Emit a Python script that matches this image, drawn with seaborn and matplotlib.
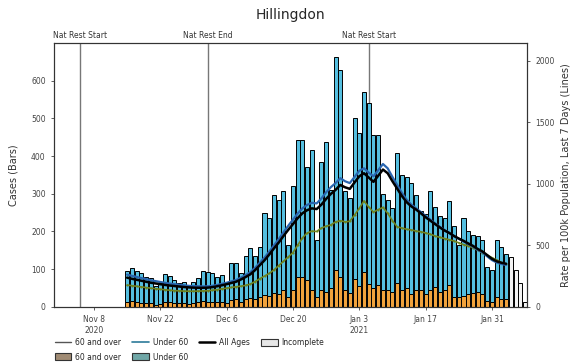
import numpy as np
import pandas as pd
import matplotlib
matplotlib.use("Agg")
import matplotlib.pyplot as plt
import matplotlib.dates as mdates
from matplotlib.lines import Line2D
from matplotlib.patches import Patch
import seaborn as sns

sns.set_style("ticks")
plt.rcParams["font.family"] = ["DejaVu Sans"]

area = "Hillingdon"

# daily cases from 15 Nov 2020 to 3 Feb 2021 (complete days)
start_day = "2020-11-15"
cases_total = [94, 103, 96, 89, 80, 76, 54, 62, 87, 82, 72, 64, 67, 54, 67, 76,
               96, 93, 89, 80, 85, 66, 116, 116, 89, 135, 156, 134, 160, 250, 235, 297,
               284, 306, 164, 321, 443, 443, 372, 415, 178, 383, 436, 310, 664, 629, 306,
               290, 500, 460, 571, 540, 456, 456, 300, 284, 262, 408, 350, 344, 328, 297,
               255, 245, 306, 266, 240, 235, 282, 215, 165, 235, 200, 191, 188, 178, 107, 98,
               178, 160, 140]
cases_60plus = [12, 15, 14, 10, 11, 9, 6, 8, 13, 12, 10, 9, 11, 8, 10, 14,
                15, 13, 12, 14, 12, 9, 18, 20, 14, 22, 24, 20, 25, 32, 28, 38,
                35, 44, 25, 45, 78, 80, 72, 44, 25, 45, 40, 50, 99, 80, 45,
                38, 75, 55, 93, 60, 49, 57, 44, 44, 40, 62, 45, 50, 35, 44,
                44, 35, 45, 53, 40, 45, 57, 25, 27, 30, 35, 38, 40, 35, 15, 13,
                27, 22, 22]

# last days, not yet complete
incomplete_start = "2021-02-04"
cases_incomplete = [131, 97, 64, 13]

# rate per 100k, last 7 days
rate_all = [237, 228, 220, 212, 204, 196, 190, 184, 178, 173, 169, 165, 161, 158, 156, 155,
            155, 156, 160, 167, 175, 184, 194, 204, 222, 242, 264, 298, 338, 378, 425, 475,
            522, 575, 625, 672, 720, 760, 785, 800, 794, 830, 876, 917, 950, 990, 971,
            958, 1010, 1060, 1085, 1050, 1015, 1065, 1115, 1085, 1020, 960, 900, 850, 815, 790,
            760, 728, 700, 672, 645, 620, 600, 575, 555, 536, 515, 495, 470, 450, 420, 390,
            370, 358, 350]
rate_under60 = [262, 252, 243, 234, 225, 216, 209, 202, 195, 189, 184, 179, 175, 171, 168, 167,
                166, 167, 171, 178, 187, 196, 207, 218, 237, 258, 281, 317, 358, 400, 448, 500,
                550, 605, 658, 708, 758, 800, 828, 845, 840, 880, 930, 972, 1005, 1045, 1020,
                1005, 1055, 1105, 1125, 1090, 1060, 1110, 1160, 1125, 1055, 990, 925, 870, 830, 800,
                770, 738, 708, 678, 650, 623, 600, 575, 552, 532, 510, 488, 463, 442, 410, 380,
                360, 348, 340]
rate_60plus = [177, 172, 167, 162, 157, 152, 147, 143, 139, 135, 132, 130, 128, 127, 127, 128,
               129, 131, 135, 140, 146, 152, 158, 163, 168, 174, 185, 205, 228, 250, 272, 300,
               335, 370, 405, 440, 500, 560, 600, 615, 612, 640, 655, 665, 690, 700, 690,
               695, 745, 800, 860, 810, 770, 790, 807, 760, 700, 650, 640, 630, 625, 615,
               610, 600, 590, 575, 565, 555, 545, 535, 520, 505, 495, 480, 460, 440, 420, 400,
               380, 360, 345]

event_dates = ["2020-11-05", "2020-12-02", "2021-01-05"]
event_labels = ["Nat Rest Start", "Nat Rest End", "Nat Rest Start"]

tick_dates = ["2020-11-08", "2020-11-22", "2020-12-06", "2020-12-20",
              "2021-01-03", "2021-01-17", "2021-01-31"]
tick_labels = ["Nov 8\n2020", "Nov 22", "Dec 6", "Dec 20", "Jan 3\n2021", "Jan 17", "Jan 31"]

col_over = "#f0a23c"
col_under = "#55bfe0"
col_line_over = "#6f8420"
col_line_under = "#2a66b0"

days = mdates.date2num(pd.date_range(start_day, periods=len(cases_total)))
inc_days = mdates.date2num(pd.date_range(incomplete_start, periods=len(cases_incomplete)))
under60 = [t - o for t, o in zip(cases_total, cases_60plus)]

bars = pd.DataFrame({
    "day": np.concatenate([days, days]),
    "cases": cases_60plus + under60,
    "age": ["60 and over"] * len(days) + ["Under 60"] * len(days),
})

fig = plt.figure(figsize=(5.75, 3.64), dpi=100)
ax = fig.add_axes([0.094, 0.157, 0.823, 0.725])

sns.histplot(data=bars, x="day", weights="cases", hue="age",
             hue_order=["Under 60", "60 and over"], multiple="stack",
             discrete=True, shrink=0.85,
             palette={"60 and over": col_over, "Under 60": col_under},
             edgecolor="black", linewidth=0.7, alpha=1, legend=False, ax=ax)
sns.histplot(x=inc_days, weights=cases_incomplete, discrete=True, shrink=0.85,
             color="#f4f4f4", edgecolor="black", linewidth=0.7, alpha=1, ax=ax)

for d, lab in zip(event_dates, event_labels):
    x = mdates.date2num(pd.Timestamp(d))
    ax.axvline(x, color="#777777", lw=1, zorder=0.5)
    ax.text(x, 1.012, lab, transform=ax.get_xaxis_transform(),
            ha="center", va="bottom", fontsize=5.5, color="#333333")

ax.set_ylim(0, 700)
ax.set_yticks(range(0, 700, 100))
ax.set_xlim(mdates.date2num(pd.Timestamp("2020-10-30 14:00")),
            mdates.date2num(pd.Timestamp("2021-02-07 11:00")))
ax.set_xticks(mdates.date2num(pd.to_datetime(tick_dates)))
ax.set_xticklabels(tick_labels)
ax.set_xlabel("")
ax.set_ylabel("Cases (Bars)", fontsize=7, color="#333333", labelpad=9)
ax.tick_params(labelsize=5.5, colors="#444444", length=2.5, width=0.6)

ax2 = ax.twinx()
sns.lineplot(x=days, y=rate_60plus, ax=ax2, color=col_line_over, lw=1.2,
             marker=".", markersize=3, markeredgewidth=0)
sns.lineplot(x=days, y=rate_under60, ax=ax2, color=col_line_under, lw=1.6)
sns.lineplot(x=days, y=rate_all, ax=ax2, color="black", lw=1.8)
ax2.set_ylim(0, 2143)
ax2.set_yticks(range(0, 2001, 500))
ax2.set_ylabel("Rate per 100k Population, Last 7 Days (Lines)", fontsize=7, color="#333333")
ax2.tick_params(labelsize=5.5, colors="#444444", length=2.5, width=0.6)

for a in (ax, ax2):
    for s in a.spines.values():
        s.set_visible(True)
        s.set_linewidth(0.8)
        s.set_color("#333333")

ax.set_title(area, fontsize=10, pad=17)

handles = [
    Line2D([], [], color="#555555", lw=1),
    Patch(facecolor="#a08b74", edgecolor="#333333", lw=0.8),
    Line2D([], [], color="#2c7a9a", lw=1.2),
    Patch(facecolor="#6fa6a6", edgecolor="#333333", lw=0.8),
    Line2D([], [], color="black", lw=1.8),
    Patch(facecolor="#e6e6e6", edgecolor="#333333", lw=0.8),
]
labels = ["60 and over", "60 and over", "Under 60", "Under 60", "All Ages", "Incomplete"]
fig.legend(handles, labels, loc="upper left", bbox_to_anchor=(0.095, 0.072),
           ncol=4, frameon=False, fontsize=5.5, handlelength=2.2,
           handleheight=1.0, columnspacing=1.4, handletextpad=0.5,
           labelspacing=0.75, borderaxespad=0, borderpad=0)

fig.savefig("out.png", dpi=100)
